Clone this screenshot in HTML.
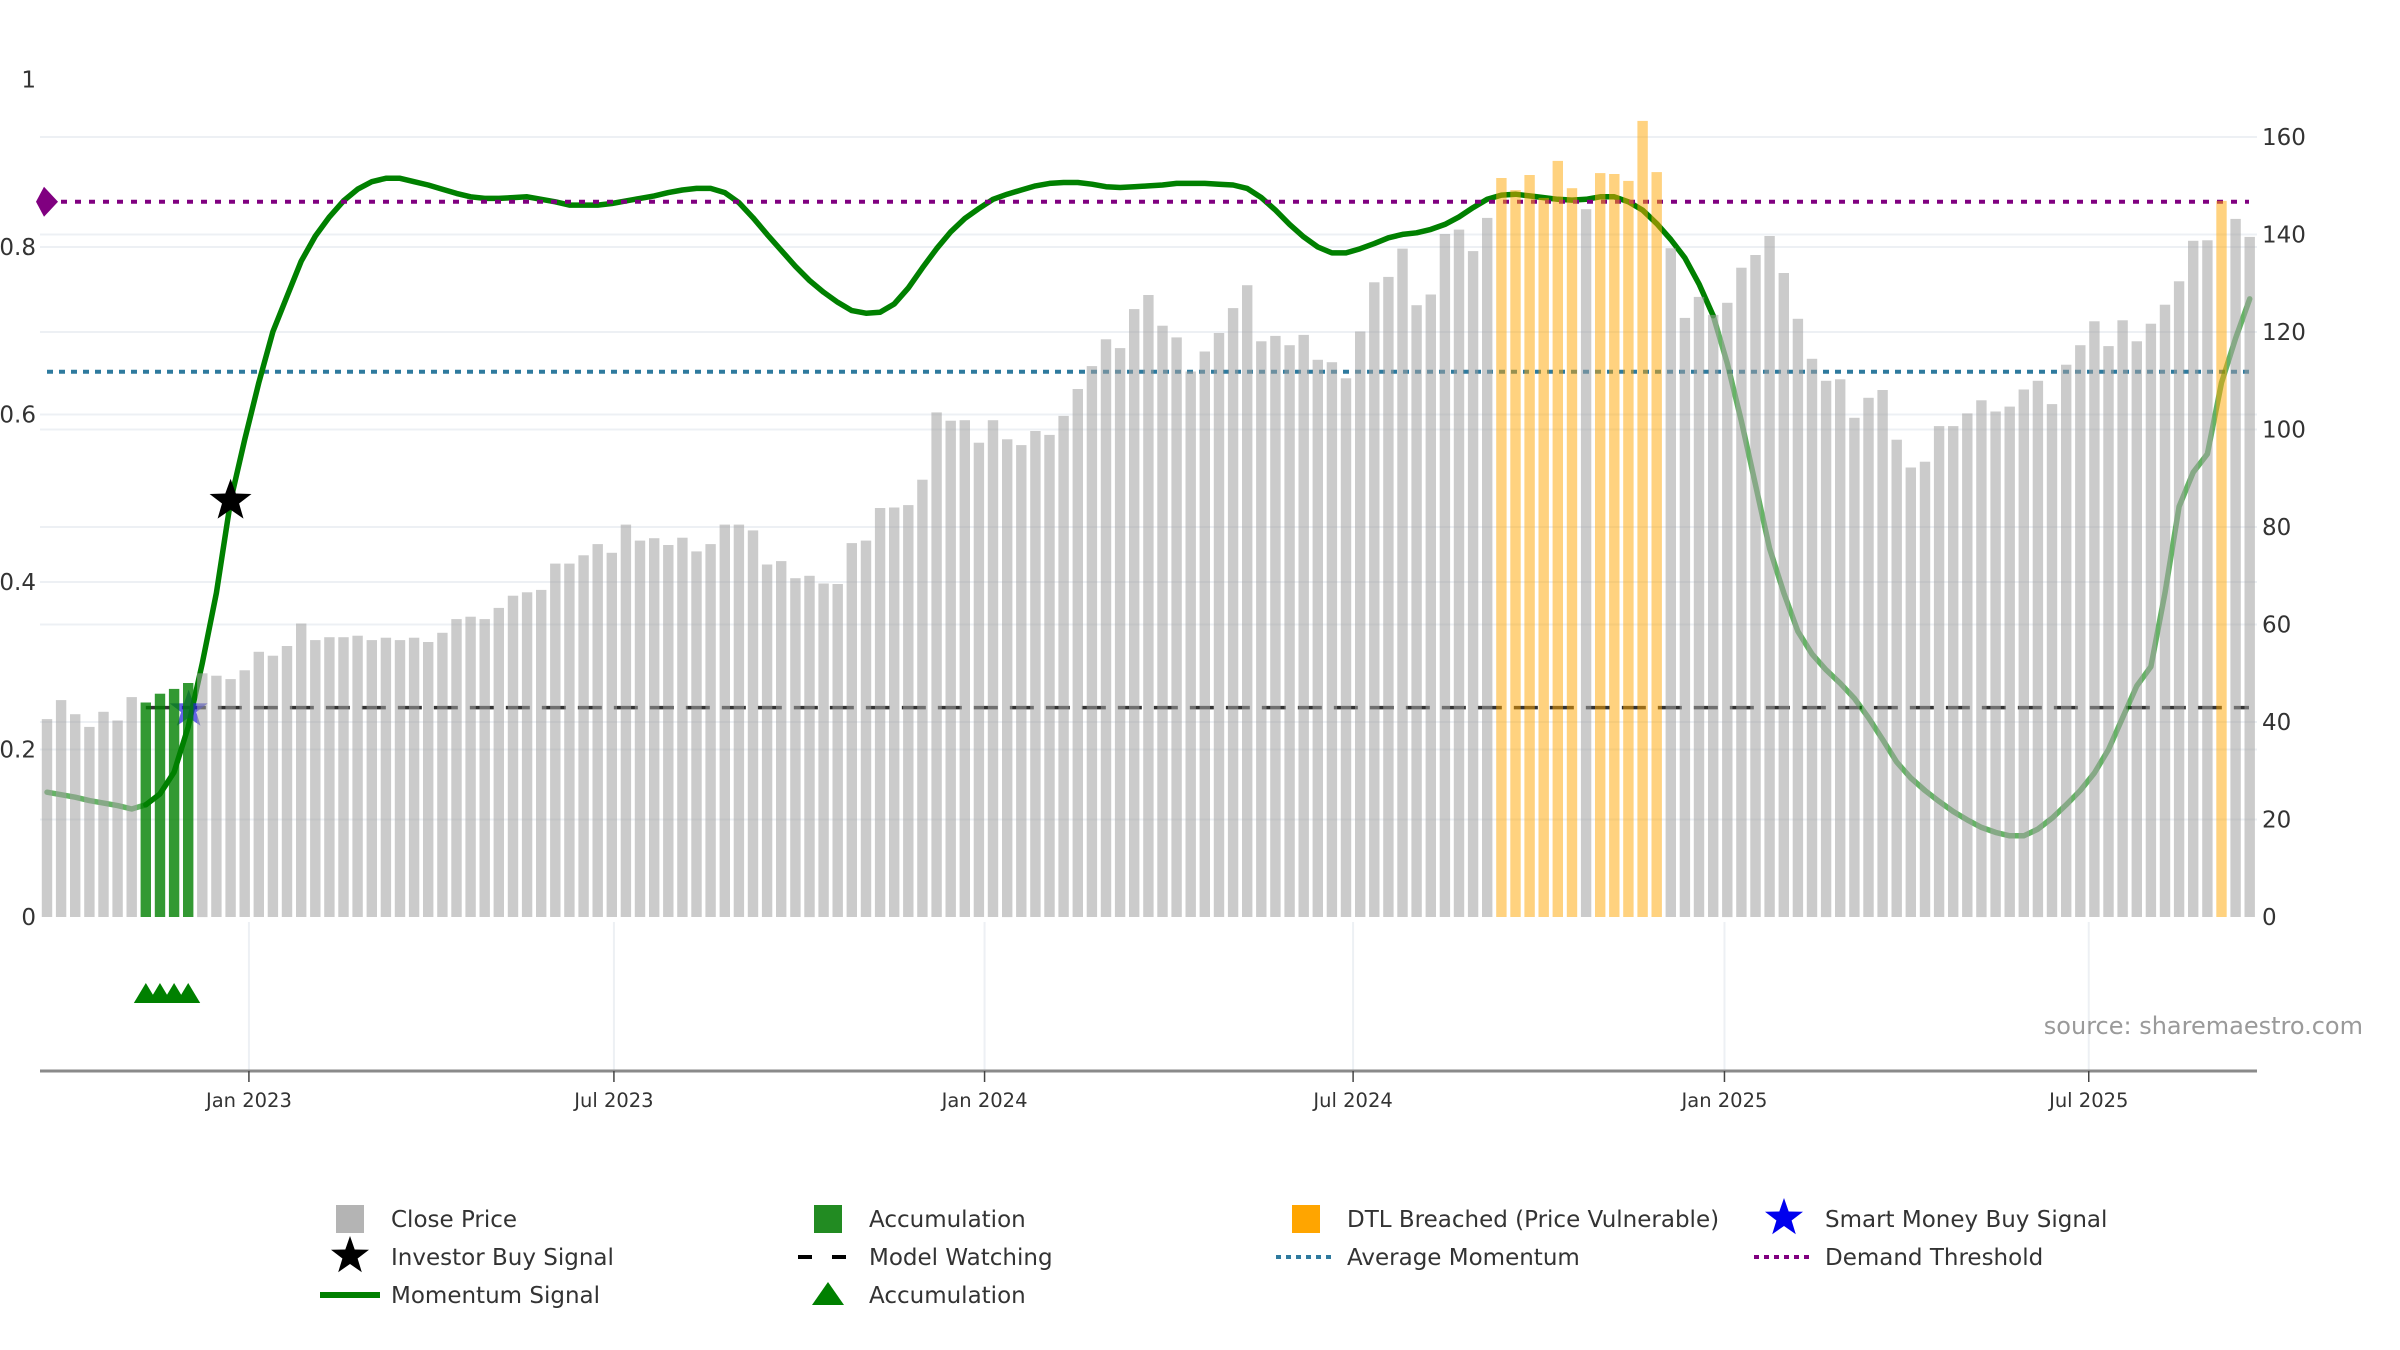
<!DOCTYPE html>
<html><head><meta charset="utf-8"><style>
html,body{margin:0;padding:0;background:#fff;}
svg{display:block;font-family:"DejaVu Sans","Liberation Sans",sans-serif;}
</style></head><body>
<svg id="chart" width="2400" height="1350" viewBox="0 0 2400 1350" xmlns="http://www.w3.org/2000/svg">
<g id="grid"></g>
<g id="lines"></g>
<g id="bars"></g>
<g id="markers"></g>
<g id="axes"></g>
<text x="2363" y="1034" text-anchor="end" font-size="24" fill="#9a9a9a">source: sharemaestro.com</text>
<g id="legend"></g>
</svg>
<script>
const prices = [40.6,44.5,41.6,39,42.1,40.3,45.1,44,45.8,46.8,
48,50,49.5,48.8,50.6,54.4,53.6,55.6,60.2,56.8,
57.4,57.4,57.7,56.8,57.3,56.8,57.3,56.4,58.3,61.1,
61.6,61.1,63.4,65.9,66.6,67.1,72.5,72.5,74.2,76.5,
74.7,80.5,77.2,77.7,76.3,77.8,75,76.5,80.5,80.5,
79.3,72.3,73,69.5,70,68.4,68.3,76.7,77.2,83.9,
84,84.5,89.7,103.5,101.8,101.9,97.3,101.9,98,96.8,
99.7,98.9,102.8,108.3,113,118.5,116.7,124.7,127.6,121.3,
118.9,111.9,
116,119.8,124.9,129.6,118.1,119.2,117.3,119.4,114.3,113.8,
110.5,120.1,130.2,131.3,137.1,125.5,127.7,140.1,141,136.6,
143.4,151.6,149.1,152.2,147.5,155.1,149.5,145.2,152.6,152.4,
151,163.3,152.8,137.2,122.9,127.2,123.5,126,133.2,135.8,
139.7,132.1,122.7,114.5,110,110.3,102.4,106.5,108.1,97.9,
92.2,93.4,100.7,100.7,103.3,106,103.7,104.7,108.2,110,
105.2,113.3,117.3,122.2,117.1,122.4,118.1,121.7,125.6,130.4,
138.7,138.8,146.9,143.2,139.5];
const momentum = [0.149,0.146,0.143,0.139,0.136,0.133,0.129,0.134,0.147,0.173,
0.227,0.303,0.387,0.497,0.570,0.638,0.699,0.741,0.783,0.813,
0.836,0.855,0.869,0.878,0.882,
0.882,0.878,0.874,0.869,0.864,0.860,0.858,0.858,0.859,0.860,
0.857,0.854,0.850,0.850,0.850,0.852,0.855,0.858,0.861,0.865,
0.868,0.870,0.870,0.865,0.853,0.835,0.815,0.796,0.777,0.760,
0.746,0.734,0.724,0.721,0.722,0.732,0.751,0.775,0.798,0.818,
0.834,0.846,0.857,0.863,0.868,0.873,0.876,0.877,0.877,0.875,
0.872,0.871,0.872,0.873,0.874,0.876,0.876,
0.876,0.875,0.874,0.870,0.859,0.844,0.827,0.812,0.800,0.793,
0.793,0.798,0.804,0.811,0.815,0.817,0.821,0.827,0.836,0.847,
0.857,0.862,0.863,0.861,0.859,0.857,0.856,0.857,0.860,0.860,
0.854,0.844,0.828,0.809,0.787,0.756,0.718,0.661,0.592,0.516,
0.440,0.387,0.341,0.314,0.295,0.279,0.261,0.238,0.212,0.185,
0.166,0.151,0.138,0.126,0.116,0.107,0.101,0.097,0.097,0.105,
0.118,0.134,0.151,0.172,0.200,0.238,0.276,0.299,0.387,0.490,
0.531,0.553,0.638,0.691,0.738];
const accumulationIdx = [7,8,9,10];
const dtlIdx = [103,104,105,106,107,108,110,111,112,113,114,154];
const strongStart = 7, strongEnd = 118;
const investorBuyIdx = [13];
const smartMoneyIdx = [10];
const modelWatchingStartIdx = 7;
const avgMomentum = 0.651;
const demandThreshold = 0.854;
const modelWatching = 0.25;
const leftTicks = [0,0.2,0.4,0.6,0.8,1];
const leftTickLabels = ["0","0.2","0.4","0.6","0.8","1"];
const rightTicks = [0,20,40,60,80,100,120,140,160];
const xTickIdx = [14.3,40.15,66.4,92.5,118.8,144.6];
const xTickLabels = ["Jan 2023","Jul 2023","Jan 2024","Jul 2024","Jan 2025","Jul 2025"];

const NS="http://www.w3.org/2000/svg";
const X0=47, PITCH=14.12, BASE=917;
const xOf=i=>X0+i*PITCH;
const yL=v=>BASE-v*837.5;
const yR=v=>BASE-v*4.875;
function mk(tag,attrs,parent){const e=document.createElementNS(NS,tag);for(const k in attrs)e.setAttribute(k,attrs[k]);parent.appendChild(e);return e;}
const G=id=>document.getElementById(id);

leftTicks.forEach((t,k)=>{if(t>0&&t<1){const g=mk('line',{x1:40,x2:2257,y1:yL(t),y2:yL(t),stroke:'#edf0f4','stroke-width':2},G('grid'));

}});
rightTicks.forEach(t=>{if(t>0){const g=mk('line',{x1:40,x2:2257,y1:yR(t),y2:yR(t),stroke:'#edf0f4','stroke-width':2},G('grid'));

}});
xTickIdx.forEach(t=>{const g=mk('line',{x1:xOf(t),x2:xOf(t),y1:922,y2:1071,stroke:'#edf0f4','stroke-width':2},G('grid'));

});

let l=mk('line',{x1:47,x2:2249,y1:yL(avgMomentum),y2:yL(avgMomentum),stroke:'#2e7a9e','stroke-width':4,'stroke-dasharray':'6 6'},G('lines'));


l=mk('line',{x1:xOf(modelWatchingStartIdx),x2:2249,y1:yL(modelWatching),y2:yL(modelWatching),stroke:'#333','stroke-width':3.5,'stroke-dasharray':'24 12'},G('lines'));



function seg(a,b,color,name){let d='';for(let i=a;i<=b;i++)d+=(i===a?'M':'L')+xOf(i).toFixed(1)+','+yL(momentum[i]).toFixed(1);
const p=mk('path',{d:d,fill:'none',stroke:color,'stroke-width':5.5,'stroke-linejoin':'round','stroke-linecap':'round'},G('lines'));

}
seg(0,strongStart,'rgba(0,128,0,0.6)','momentum-line-weak-start');
seg(strongStart,strongEnd,'#008000','momentum-line-strong');
seg(strongEnd,momentum.length-1,'rgba(0,128,0,0.6)','momentum-line-weak-end');

l=mk('line',{x1:47,x2:2249,y1:yL(demandThreshold),y2:yL(demandThreshold),stroke:'#800080','stroke-width':4,'stroke-dasharray':'6 8'},G('lines'));


l=mk('path',{d:`M${47-11},${yL(demandThreshold)} L${47-3},${yL(demandThreshold)-15} L${47+11},${yL(demandThreshold)} L${47-3},${yL(demandThreshold)+15}Z`,fill:'#800080'},G('lines'));



function starPath(cx,cy,R,r){let d='';for(let k=0;k<10;k++){const a=-Math.PI/2+k*Math.PI/5;const rr=k%2?r:R;d+=(k?'L':'M')+(cx+rr*Math.cos(a)).toFixed(1)+','+(cy+rr*Math.sin(a)).toFixed(1);}return d+'Z';}
smartMoneyIdx.forEach(i=>{const s=mk('path',{d:starPath(xOf(i)+0.5,yL(modelWatching)+2,20,8),fill:'#2222dd','fill-opacity':0.7},G('lines'));

});

prices.forEach((v,i)=>{let c='rgba(160,160,160,0.55)',n='close-price-bar';
if(accumulationIdx.includes(i)){c='rgba(0,128,0,0.8)';n='accumulation-bar';}
if(dtlIdx.includes(i)){c='rgba(255,165,0,0.5)';n='dtl-breached-bar';}
const r=mk('rect',{x:(xOf(i)-5.2).toFixed(1),y:yR(v).toFixed(1),width:10.4,height:(BASE-yR(v)).toFixed(1),fill:c},G('bars'));

});

investorBuyIdx.forEach(i=>{const s=mk('path',{d:starPath(xOf(i),yL(momentum[i]),22,9),fill:'#000'},G('markers'));

});
accumulationIdx.forEach(i=>{const t=mk('path',{d:`M${xOf(i)-12},1003 L${xOf(i)},983 L${xOf(i)+12},1003Z`,fill:'#008000'},G('markers'));

});

l=mk('line',{x1:40,x2:2257,y1:1071,y2:1071,stroke:'#8a8a8a','stroke-width':3},G('axes'));


leftTicks.forEach((t,k)=>{const e=mk('text',{x:36,y:yL(t)+8,'text-anchor':'end','font-size':23,fill:'#333'},G('axes'));e.textContent=leftTickLabels[k];

});
rightTicks.forEach(t=>{const e=mk('text',{x:2262,y:yR(t)+8,'font-size':23,fill:'#333'},G('axes'));e.textContent=String(t);

});
xTickIdx.forEach((t,k)=>{const tk=mk('line',{x1:xOf(t),x2:xOf(t),y1:1071,y2:1082,stroke:'#444','stroke-width':1.5},G('axes'));


const e=mk('text',{x:xOf(t),y:1107,'text-anchor':'middle','font-size':19.5,fill:'#333'},G('axes'));e.textContent=xTickLabels[k];

});

const LG=G('legend');
const cols=[350,828,1306,1784], rows=[1219,1257,1295];
const items=[
 [0,0,'Close Price','sq','#b4b4b4'],[1,0,'Accumulation','sq','#228b22'],[2,0,'DTL Breached (Price Vulnerable)','sq','#ffa500'],[3,0,'Smart Money Buy Signal','star','#0000ee'],
 [0,1,'Investor Buy Signal','star','#000'],[1,1,'Model Watching','dash','#000'],[2,1,'Average Momentum','dot','#2e7a9e'],[3,1,'Demand Threshold','dot','#800080'],
 [0,2,'Momentum Signal','line','#008000'],[1,2,'Accumulation','tri','#008000']];
items.forEach(([c,r,label,type,color])=>{const g=mk('g',{},LG);


const cx=cols[c], cy=rows[r];
if(type==='sq')mk('rect',{x:cx-14,y:cy-14,width:28,height:28,fill:color},g);
if(type==='star')mk('path',{d:starPath(cx,cy-1,20,8),fill:color},g);
if(type==='dash'){mk('line',{x1:cx-30,x2:cx+30,y1:cy,y2:cy,stroke:color,'stroke-width':4,'stroke-dasharray':'14 20'},g);}
if(type==='dot')mk('line',{x1:cx-30,x2:cx+30,y1:cy,y2:cy,stroke:color,'stroke-width':4,'stroke-dasharray':'5 5'},g);
if(type==='line')mk('line',{x1:cx-30,x2:cx+30,y1:cy,y2:cy,stroke:color,'stroke-width':6},g);
if(type==='tri')mk('path',{d:`M${cx-16},${cy+10} L${cx},${cy-13} L${cx+16},${cy+10}Z`,fill:color},g);
const t=mk('text',{x:cx+41,y:cy+8,'font-size':23,fill:'#333'},g);t.textContent=label;});
</script>
</body></html>
